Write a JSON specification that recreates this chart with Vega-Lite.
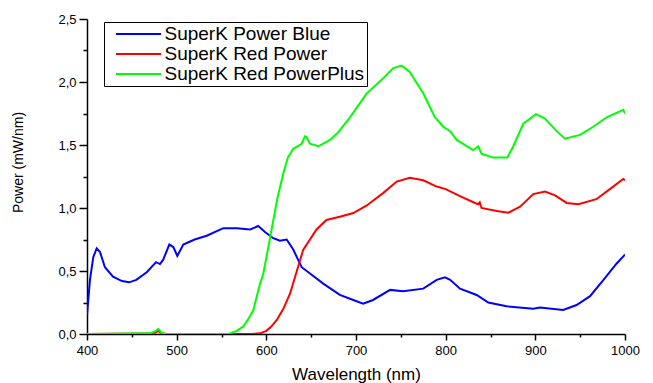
{
  "$schema": "https://vega.github.io/schema/vega-lite/v6.json",
  "width": 538,
  "height": 315,
  "autosize": {"type": "none"},
  "padding": {"left": 87, "top": 19, "right": 28, "bottom": 49},
  "background": "white",
  "config": {
    "view": {"stroke": null},
    "font": "Liberation Sans",
    "axis": {
      "domainColor": "black",
      "domainWidth": 1.5,
      "tickColor": "black",
      "tickWidth": 1.5,
      "labelColor": "black",
      "titleColor": "black",
      "labelFont": "Liberation Sans",
      "titleFont": "Liberation Sans",
      "titleFontWeight": "normal",
      "grid": false
    }
  },
  "datasets": {
    "spec": [
      {"s": "SuperK Power Blue", "x": 400, "y": 0.15},
      {"s": "SuperK Power Blue", "x": 403.3, "y": 0.43},
      {"s": "SuperK Power Blue", "x": 407, "y": 0.61},
      {"s": "SuperK Power Blue", "x": 410.8, "y": 0.68},
      {"s": "SuperK Power Blue", "x": 414.5, "y": 0.65},
      {"s": "SuperK Power Blue", "x": 420, "y": 0.53},
      {"s": "SuperK Power Blue", "x": 429, "y": 0.455},
      {"s": "SuperK Power Blue", "x": 439, "y": 0.42},
      {"s": "SuperK Power Blue", "x": 447, "y": 0.41},
      {"s": "SuperK Power Blue", "x": 455, "y": 0.43},
      {"s": "SuperK Power Blue", "x": 466.6, "y": 0.49},
      {"s": "SuperK Power Blue", "x": 477, "y": 0.57},
      {"s": "SuperK Power Blue", "x": 481.4, "y": 0.555},
      {"s": "SuperK Power Blue", "x": 485, "y": 0.59},
      {"s": "SuperK Power Blue", "x": 491.8, "y": 0.71},
      {"s": "SuperK Power Blue", "x": 496.3, "y": 0.69},
      {"s": "SuperK Power Blue", "x": 500.7, "y": 0.62},
      {"s": "SuperK Power Blue", "x": 507.4, "y": 0.71},
      {"s": "SuperK Power Blue", "x": 520, "y": 0.75},
      {"s": "SuperK Power Blue", "x": 533.5, "y": 0.78},
      {"s": "SuperK Power Blue", "x": 552, "y": 0.84},
      {"s": "SuperK Power Blue", "x": 567, "y": 0.84},
      {"s": "SuperK Power Blue", "x": 582, "y": 0.83},
      {"s": "SuperK Power Blue", "x": 591, "y": 0.857},
      {"s": "SuperK Power Blue", "x": 598.5, "y": 0.81},
      {"s": "SuperK Power Blue", "x": 607.8, "y": 0.76},
      {"s": "SuperK Power Blue", "x": 615, "y": 0.74},
      {"s": "SuperK Power Blue", "x": 622.7, "y": 0.75},
      {"s": "SuperK Power Blue", "x": 630, "y": 0.67},
      {"s": "SuperK Power Blue", "x": 639.4, "y": 0.53},
      {"s": "SuperK Power Blue", "x": 648.7, "y": 0.48},
      {"s": "SuperK Power Blue", "x": 663.5, "y": 0.4},
      {"s": "SuperK Power Blue", "x": 682, "y": 0.31},
      {"s": "SuperK Power Blue", "x": 697, "y": 0.27},
      {"s": "SuperK Power Blue", "x": 708, "y": 0.24},
      {"s": "SuperK Power Blue", "x": 719, "y": 0.27},
      {"s": "SuperK Power Blue", "x": 738, "y": 0.35},
      {"s": "SuperK Power Blue", "x": 752.7, "y": 0.34},
      {"s": "SuperK Power Blue", "x": 775, "y": 0.36},
      {"s": "SuperK Power Blue", "x": 790, "y": 0.43},
      {"s": "SuperK Power Blue", "x": 799.2, "y": 0.45},
      {"s": "SuperK Power Blue", "x": 805, "y": 0.43},
      {"s": "SuperK Power Blue", "x": 816, "y": 0.36},
      {"s": "SuperK Power Blue", "x": 834.6, "y": 0.31},
      {"s": "SuperK Power Blue", "x": 847.5, "y": 0.25},
      {"s": "SuperK Power Blue", "x": 868, "y": 0.22},
      {"s": "SuperK Power Blue", "x": 897.7, "y": 0.2},
      {"s": "SuperK Power Blue", "x": 905.2, "y": 0.21},
      {"s": "SuperK Power Blue", "x": 931, "y": 0.19},
      {"s": "SuperK Power Blue", "x": 946, "y": 0.23},
      {"s": "SuperK Power Blue", "x": 961, "y": 0.3},
      {"s": "SuperK Power Blue", "x": 976, "y": 0.43},
      {"s": "SuperK Power Blue", "x": 990.7, "y": 0.56},
      {"s": "SuperK Power Blue", "x": 1000, "y": 0.63},

      {"s": "SuperK Red Power", "x": 400, "y": 0},
      {"s": "SuperK Red Power", "x": 470, "y": 0.003},
      {"s": "SuperK Red Power", "x": 476, "y": 0.01},
      {"s": "SuperK Red Power", "x": 479.5, "y": 0.025},
      {"s": "SuperK Red Power", "x": 483, "y": 0.005},
      {"s": "SuperK Red Power", "x": 490, "y": 0},
      {"s": "SuperK Red Power", "x": 582, "y": 0},
      {"s": "SuperK Red Power", "x": 593, "y": 0.005},
      {"s": "SuperK Red Power", "x": 600, "y": 0.025},
      {"s": "SuperK Red Power", "x": 605, "y": 0.055},
      {"s": "SuperK Red Power", "x": 611.5, "y": 0.11},
      {"s": "SuperK Red Power", "x": 619, "y": 0.2},
      {"s": "SuperK Red Power", "x": 626.4, "y": 0.32},
      {"s": "SuperK Red Power", "x": 634, "y": 0.5},
      {"s": "SuperK Red Power", "x": 641.2, "y": 0.67},
      {"s": "SuperK Red Power", "x": 656, "y": 0.83},
      {"s": "SuperK Red Power", "x": 667, "y": 0.905},
      {"s": "SuperK Red Power", "x": 682, "y": 0.93},
      {"s": "SuperK Red Power", "x": 697, "y": 0.96},
      {"s": "SuperK Red Power", "x": 712, "y": 1.02},
      {"s": "SuperK Red Power", "x": 730.5, "y": 1.12},
      {"s": "SuperK Red Power", "x": 745.4, "y": 1.21},
      {"s": "SuperK Red Power", "x": 760, "y": 1.24},
      {"s": "SuperK Red Power", "x": 775, "y": 1.22},
      {"s": "SuperK Red Power", "x": 790, "y": 1.17},
      {"s": "SuperK Red Power", "x": 800, "y": 1.15},
      {"s": "SuperK Red Power", "x": 816, "y": 1.095},
      {"s": "SuperK Red Power", "x": 832.7, "y": 1.04},
      {"s": "SuperK Red Power", "x": 836.4, "y": 1.03},
      {"s": "SuperK Red Power", "x": 838, "y": 1.045},
      {"s": "SuperK Red Power", "x": 840, "y": 1.0},
      {"s": "SuperK Red Power", "x": 857, "y": 0.976},
      {"s": "SuperK Red Power", "x": 870, "y": 0.963},
      {"s": "SuperK Red Power", "x": 883, "y": 1.01},
      {"s": "SuperK Red Power", "x": 897.7, "y": 1.11},
      {"s": "SuperK Red Power", "x": 910.8, "y": 1.13},
      {"s": "SuperK Red Power", "x": 922, "y": 1.1},
      {"s": "SuperK Red Power", "x": 935, "y": 1.04},
      {"s": "SuperK Red Power", "x": 948, "y": 1.03},
      {"s": "SuperK Red Power", "x": 968, "y": 1.07},
      {"s": "SuperK Red Power", "x": 985, "y": 1.16},
      {"s": "SuperK Red Power", "x": 998, "y": 1.23},
      {"s": "SuperK Red Power", "x": 1000, "y": 1.22},

      {"s": "SuperK Red PowerPlus", "x": 400, "y": 0},
      {"s": "SuperK Red PowerPlus", "x": 470, "y": 0.005},
      {"s": "SuperK Red PowerPlus", "x": 476, "y": 0.02},
      {"s": "SuperK Red PowerPlus", "x": 479.5, "y": 0.04},
      {"s": "SuperK Red PowerPlus", "x": 483, "y": 0.01},
      {"s": "SuperK Red PowerPlus", "x": 487, "y": 0},
      {"s": "SuperK Red PowerPlus", "x": 555, "y": 0},
      {"s": "SuperK Red PowerPlus", "x": 559.5, "y": 0.005},
      {"s": "SuperK Red PowerPlus", "x": 567, "y": 0.025},
      {"s": "SuperK Red PowerPlus", "x": 574.3, "y": 0.06},
      {"s": "SuperK Red PowerPlus", "x": 580, "y": 0.12},
      {"s": "SuperK Red PowerPlus", "x": 585.5, "y": 0.19},
      {"s": "SuperK Red PowerPlus", "x": 593, "y": 0.4},
      {"s": "SuperK Red PowerPlus", "x": 596.6, "y": 0.48},
      {"s": "SuperK Red PowerPlus", "x": 602, "y": 0.68},
      {"s": "SuperK Red PowerPlus", "x": 607.8, "y": 0.905},
      {"s": "SuperK Red PowerPlus", "x": 613, "y": 1.1},
      {"s": "SuperK Red PowerPlus", "x": 619, "y": 1.275},
      {"s": "SuperK Red PowerPlus", "x": 624, "y": 1.4},
      {"s": "SuperK Red PowerPlus", "x": 630, "y": 1.47},
      {"s": "SuperK Red PowerPlus", "x": 639.4, "y": 1.51},
      {"s": "SuperK Red PowerPlus", "x": 643.1, "y": 1.57},
      {"s": "SuperK Red PowerPlus", "x": 645, "y": 1.56},
      {"s": "SuperK Red PowerPlus", "x": 648.7, "y": 1.51},
      {"s": "SuperK Red PowerPlus", "x": 658, "y": 1.49},
      {"s": "SuperK Red PowerPlus", "x": 671, "y": 1.54},
      {"s": "SuperK Red PowerPlus", "x": 680, "y": 1.6},
      {"s": "SuperK Red PowerPlus", "x": 693.3, "y": 1.72},
      {"s": "SuperK Red PowerPlus", "x": 712, "y": 1.91},
      {"s": "SuperK Red PowerPlus", "x": 730.5, "y": 2.03},
      {"s": "SuperK Red PowerPlus", "x": 741.6, "y": 2.11},
      {"s": "SuperK Red PowerPlus", "x": 751, "y": 2.13},
      {"s": "SuperK Red PowerPlus", "x": 760, "y": 2.08},
      {"s": "SuperK Red PowerPlus", "x": 767, "y": 2.0},
      {"s": "SuperK Red PowerPlus", "x": 775, "y": 1.91},
      {"s": "SuperK Red PowerPlus", "x": 782.5, "y": 1.8},
      {"s": "SuperK Red PowerPlus", "x": 788, "y": 1.72},
      {"s": "SuperK Red PowerPlus", "x": 797.4, "y": 1.645},
      {"s": "SuperK Red PowerPlus", "x": 805, "y": 1.61},
      {"s": "SuperK Red PowerPlus", "x": 812.3, "y": 1.54},
      {"s": "SuperK Red PowerPlus", "x": 830.8, "y": 1.46},
      {"s": "SuperK Red PowerPlus", "x": 836.4, "y": 1.49},
      {"s": "SuperK Red PowerPlus", "x": 840.1, "y": 1.43},
      {"s": "SuperK Red PowerPlus", "x": 853, "y": 1.4},
      {"s": "SuperK Red PowerPlus", "x": 868.7, "y": 1.4},
      {"s": "SuperK Red PowerPlus", "x": 875.4, "y": 1.49},
      {"s": "SuperK Red PowerPlus", "x": 886.6, "y": 1.67},
      {"s": "SuperK Red PowerPlus", "x": 900.7, "y": 1.745},
      {"s": "SuperK Red PowerPlus", "x": 910.8, "y": 1.71},
      {"s": "SuperK Red PowerPlus", "x": 923.8, "y": 1.61},
      {"s": "SuperK Red PowerPlus", "x": 933, "y": 1.55},
      {"s": "SuperK Red PowerPlus", "x": 949.8, "y": 1.58},
      {"s": "SuperK Red PowerPlus", "x": 964.6, "y": 1.645},
      {"s": "SuperK Red PowerPlus", "x": 979.6, "y": 1.72},
      {"s": "SuperK Red PowerPlus", "x": 998.1, "y": 1.78},
      {"s": "SuperK Red PowerPlus", "x": 1000, "y": 1.75}
    ]
  },
  "data": {"name": "spec"},
  "mark": {"type": "line", "strokeWidth": 2, "clip": true},
  "encoding": {
    "x": {
      "field": "x",
      "type": "quantitative",
      "scale": {"domain": [400, 1000], "nice": false, "zero": false},
      "axis": {
        "title": "Wavelength (nm)",
        "titleFontSize": 17,
        "titleY": 45,
        "titleBaseline": "alphabetic",
        "values": [400, 450, 500, 550, 600, 650, 700, 750, 800, 850, 900, 950, 1000],
        "labelExpr": "datum.value % 100 === 0 ? format(datum.value, 'd') : ''",
        "labelFontSize": 13,
        "labelPadding": 4,
        "tickSize": {"condition": {"test": "datum.value % 100 === 0", "value": 6}, "value": 3},
        "labelFlush": false,
        "labelOverlap": false
      }
    },
    "y": {
      "field": "y",
      "type": "quantitative",
      "scale": {"domain": [0, 2.5], "nice": false},
      "axis": {
        "title": "Power (mW/nm)",
        "titleFontSize": 14,
        "titleX": -69,
        "titleY": 143,
        "titleBaseline": "middle",
        "values": [0, 0.25, 0.5, 0.75, 1, 1.25, 1.5, 1.75, 2, 2.25, 2.5],
        "labelExpr": "datum.value % 0.5 === 0 ? replace(format(datum.value, '.1f'), '.', ',') : ''",
        "labelFontSize": 13,
        "labelPadding": 3,
        "tickSize": {"condition": {"test": "datum.value % 0.5 === 0", "value": 8}, "value": 4},
        "labelFlush": false,
        "labelOverlap": false
      }
    },
    "color": {
      "field": "s",
      "type": "nominal",
      "scale": {
        "domain": ["SuperK Power Blue", "SuperK Red Power", "SuperK Red PowerPlus"],
        "range": ["#0000ff", "#ff0000", "#00ff00"]
      },
      "legend": {
        "title": null,
        "orient": "none",
        "legendX": 17,
        "legendY": 3,
        "strokeColor": "black",
        "fillColor": "white",
        "padding": 2,
        "symbolType": "M-2.5,0H2.5",
        "symbolSize": 324,
        "symbolStrokeWidth": 2,
        "symbolOffset": 22.5,
        "labelFontSize": 19,
        "labelFont": "Liberation Sans",
        "labelColor": "black",
        "labelOffset": 16,
        "labelLimit": 300,
        "rowPadding": -0.5
      }
    }
  }
}
